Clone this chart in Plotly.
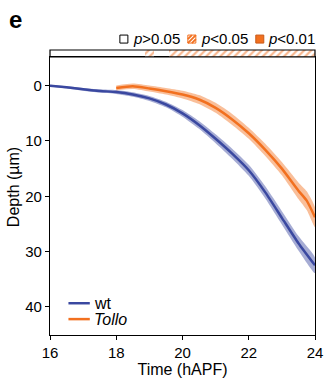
import plotly.graph_objects as go

# Mean depth (µm) over time (hAPF) with s.e.m. for each genotype
wt_time = [16.0, 16.5, 17.0, 17.5, 18.0, 18.5, 19.0, 19.5, 20.0, 20.5, 21.0,
           21.5, 22.0, 22.5, 23.0, 23.5, 24.0]
wt_depth = [0.0, 0.3, 0.65, 0.95, 1.15, 1.6, 2.3, 3.4, 5.0, 7.1, 9.6,
            12.3, 15.3, 19.3, 23.9, 28.5, 32.5]
wt_sem = [0.15, 0.2, 0.25, 0.3, 0.35, 0.4, 0.45, 0.5, 0.6, 0.7, 0.8,
          0.9, 1.0, 1.1, 1.2, 1.3, 1.4]

tollo_time = [18.0, 18.5, 19.0, 19.5, 20.0, 20.5, 21.0, 21.5, 22.0, 22.5,
              23.0, 23.5, 23.75, 24.0]
tollo_depth = [0.4, 0.1, 0.5, 1.0, 1.6, 2.5, 4.0, 6.1, 8.6, 11.6,
               15.0, 19.0, 20.8, 23.8]
tollo_sem = [0.45, 0.5, 0.55, 0.6, 0.7, 0.8, 0.9, 1.0, 1.0, 1.1,
             1.2, 1.5, 1.7, 1.8]

# Time windows where the difference is significant (p<0.05)
sig_start = [18.86, 19.6]
sig_end = [19.13, 24.0]

x_ticks = [16, 18, 20, 22, 24]
y_ticks = [0, 10, 20, 30, 40]

BLUE = "#3a48a0"
BLUE_BAND = "rgba(58,72,160,0.45)"
ORANGE = "#f2701f"
ORANGE_BAND = "rgba(242,112,31,0.45)"
FONT = "Liberation Sans, Arial, sans-serif"

W, H = 334, 383
ML, MR, MT, MB = 50, 11, 50, 46
PW, PH = W - ML - MR, H - MT - MB
SPLIT = (H - MB - 57) / PH  # top of the main panel


def px_x(px):
    return (px - ML) / PW


def px_y(py):
    return (H - MB - py) / PH


fig = go.Figure()


def add_series(t, m, s, line_color, band_color, name):
    upper = [a - b for a, b in zip(m, s)]
    lower = [a + b for a, b in zip(m, s)]
    fig.add_trace(go.Scatter(
        x=t + t[::-1], y=upper + lower[::-1], fill="toself",
        fillcolor=band_color, line=dict(width=0, shape="spline", smoothing=0.6),
        mode="lines", hoverinfo="skip", showlegend=False))
    fig.add_trace(go.Scatter(
        x=t, y=m, mode="lines", name=name,
        line=dict(color=line_color, width=2.5, shape="spline", smoothing=0.6),
        showlegend=False))


add_series(wt_time, wt_depth, wt_sem, BLUE, BLUE_BAND, "wt")
add_series(tollo_time, tollo_depth, tollo_sem, ORANGE, ORANGE_BAND, "Tollo")

# Significance strip above the panel
fig.add_trace(go.Bar(
    x=[e - s for s, e in zip(sig_start, sig_end)], base=sig_start,
    y=[0] * len(sig_start), orientation="h", width=1, yaxis="y2",
    marker=dict(color="white", line=dict(width=0),
                pattern=dict(shape="/", fgcolor=ORANGE, bgcolor="white",
                             size=5, solidity=0.45)),
    showlegend=False, hoverinfo="skip"))

axis_common = dict(showline=True, linecolor="black", linewidth=1.2,
                   ticks="outside", ticklen=4, tickwidth=1.2, tickcolor="black",
                   showgrid=False, zeroline=False,
                   tickfont=dict(family=FONT, size=15, color="black"))

fig.update_layout(
    width=W, height=H,
    margin=dict(l=ML, r=MR, t=MT, b=MB),
    paper_bgcolor="white", plot_bgcolor="white",
    font=dict(family=FONT, size=16, color="black"),
    xaxis=dict(range=[16, 24], tickvals=x_ticks, mirror=True,
               title=dict(text="Time (hAPF)", standoff=0,
                          font=dict(family=FONT, size=16)),
               **axis_common),
    yaxis=dict(range=[45.1, -5.2], tickvals=y_ticks, mirror=True,
               domain=[0, SPLIT], **axis_common),
    yaxis2=dict(domain=[SPLIT, 1], range=[-0.5, 0.5], visible=False,
                anchor="x", fixedrange=True),
    bargap=0,
)

# Frame around the significance strip
fig.add_shape(type="rect", xref="x domain", yref="y2 domain",
              x0=0, x1=1, y0=0, y1=1, line=dict(color="black", width=1.2),
              fillcolor="rgba(0,0,0,0)")

KEY_Y = 38
KEY_FONT = dict(size=15)
annotations = [
    dict(text="<b>e</b>", x=px_x(6), y=px_y(19), xanchor="left",
         yanchor="middle", font=dict(size=24)),
    dict(text="Depth (µm)", x=px_x(12), y=px_y(188), textangle=-90,
         xanchor="center", yanchor="middle"),
    dict(text="<i>p</i>>0.05", x=px_x(133), y=px_y(KEY_Y),
         xanchor="left", yanchor="middle", font=KEY_FONT),
    dict(text="<i>p</i><0.05", x=px_x(203), y=px_y(KEY_Y),
         xanchor="left", yanchor="middle", font=KEY_FONT),
    dict(text="<i>p</i><0.01", x=px_x(273), y=px_y(KEY_Y),
         xanchor="left", yanchor="middle", font=KEY_FONT),
    dict(text="wt", x=px_x(93), y=px_y(305), xanchor="left",
         yanchor="middle"),
    dict(text="<i>Tollo</i>", x=px_x(93), y=px_y(321), xanchor="left",
         yanchor="middle"),
]
for a in annotations:
    fig.add_annotation(xref="paper", yref="paper", showarrow=False, **a)

# Key swatches for the significance levels
sq = dict(xref="paper", yref="paper", xsizemode="pixel", ysizemode="pixel",
          yanchor=px_y(KEY_Y + 1))
fig.add_shape(type="rect", xanchor=px_x(122), x0=0, x1=8, y0=-4, y1=4,
              line=dict(color="black", width=1), fillcolor="white", **sq)
fig.add_shape(type="rect", xanchor=px_x(192), x0=0, x1=8, y0=-4, y1=4,
              line=dict(color=ORANGE, width=1), fillcolor="white", **sq)
fig.add_shape(type="path", xanchor=px_x(192),
              path="M0,-4 L8,4 M0,0 L4,4 M4,-4 L8,0",
              line=dict(color=ORANGE, width=1.8), **sq)
fig.add_shape(type="rect", xanchor=px_x(262), x0=0, x1=8, y0=-4, y1=4,
              line=dict(color="#c85a18", width=1), fillcolor=ORANGE, **sq)

# Line key for the genotypes
for yy, col in [(305, BLUE), (321, ORANGE)]:
    fig.add_shape(type="line", xref="paper", yref="paper",
                  x0=px_x(69), x1=px_x(91), y0=px_y(yy), y1=px_y(yy),
                  line=dict(color=col, width=2.5))

fig.write_html("out.html")
